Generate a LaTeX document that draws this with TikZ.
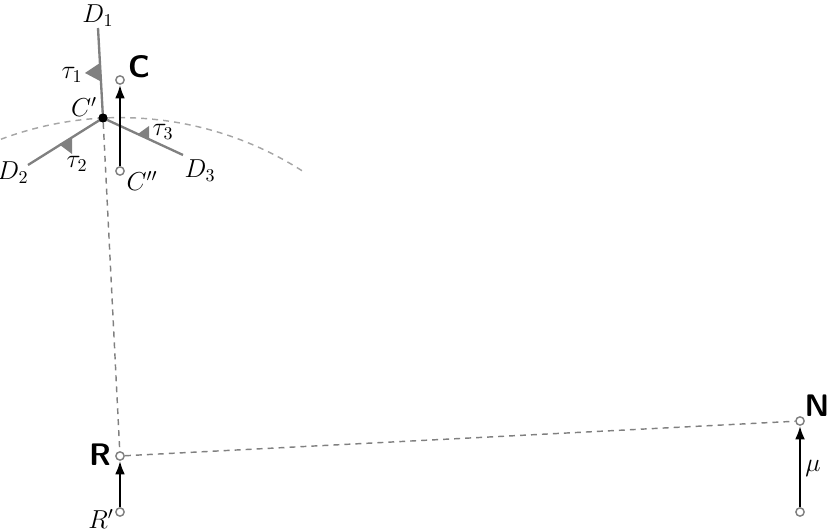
\documentclass[tikz,border=0pt]{standalone}
\usepackage{amsmath,amssymb}
\usepackage{tikz}
\usetikzlibrary{arrows.meta}
\usepackage{xcolor}

\begin{document}
\begin{tikzpicture}[x=0.555pt,y=0.555pt,
    pt/.style={circle,draw=gray,fill=white,line width=0.8pt,inner sep=0pt,minimum size=4.6pt},
    move/.style={line width=1.3pt,-{Latex[length=7.5pt,width=5.5pt]}},
    ray/.style={gray,line width=1.3pt},
    flag/.style={fill=gray,draw=none},
    guide/.style={gray,line width=0.8pt,dash pattern=on 3.3pt off 2.8pt},
    lbl/.style={font=\Large},
    big/.style={font=\LARGE\sffamily\bfseries}]
\useasboundingbox (0,0) rectangle (830,532);
    %points
    \node[circle,fill=black,inner sep=0pt,minimum size=5pt] (Cp) at (103,414) {};
    \node[pt] (C) at (120,452) {};
    \node[pt] (Cpp) at (120,361) {};
    \node[pt] (R) at (120,76) {};
    \node[pt] (Rp) at (120,20) {};
    \node[pt] (N) at (800,111) {};
    \node[pt] (Np) at (800,20) {};
    \coordinate (D1) at (98,504);
    \coordinate (D2) at (28,367);
    \coordinate (D3) at (183,377);
    % dashed guides
    \draw[guide,gray!70] (R.center) ++(110.6:338.4) arc[start angle=110.6, end angle=57.2, radius=338.4];
    \draw[guide] (Cp) -- (R);
    \draw[guide] (R) -- (N);
    % rays
    \draw[ray] (Cp.center) -- (D1);
    \draw[ray] (Cp.center) -- (D2);
    \draw[ray] (Cp.center) -- (D3);
    \fill[flag] (85,459) -- (100,469) -- (100,451) -- cycle;
    \fill[flag] (59,387.8) -- (72,394.6) -- (72,378) -- cycle;
    \fill[flag] (137,397.3) -- (149,393.7) -- (149,406) -- cycle;
    \node[circle,fill=black,inner sep=0pt,minimum size=5pt] at (Cp) {};
    % moves
    \draw[move] (Cpp) -- (C);
    \draw[move] (Rp) -- (R);
    \draw[move] (Np) -- (N);
    % labels
    \node[lbl] (lD1) at (98,516) {$D_1$};
    \node[lbl] (lD2) at (13,359) {$D_2$};
    \node[lbl] (lD3) at (200,361) {$D_3$};
    \node[lbl] (lt1) at (72,457) {$\tau_1$};
    \node[lbl] (lt2) at (77,368) {$\tau_2$};
    \node[lbl] (lt3) at (163,400) {$\tau_3$};
    \node[lbl] (lCp) at (84,425) {$C'$};
    \node[lbl] (lCpp) at (142,351) {$C''$};
    \node[lbl] (lRp) at (101,13) {$R'$};
    \node[lbl] (lmu) at (813,64) {$\mu$};
    \node[big] (lC) at (139,465) {C};
    \node[big] (lR) at (100,77) {R};
    \node[big] (lN) at (817,126) {N};
\end{tikzpicture}
\end{document}
